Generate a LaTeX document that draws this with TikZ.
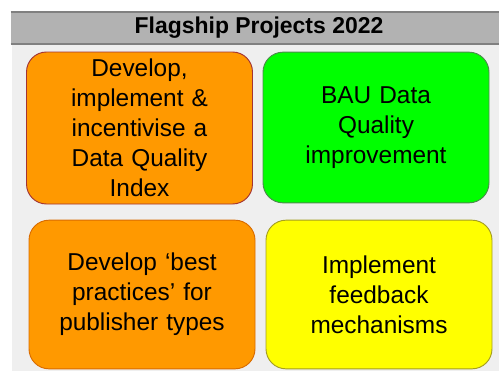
\documentclass[tikz,border=0pt]{standalone}
\usepackage{fontspec}
\setmainfont{Liberation Sans}
\usetikzlibrary{positioning, calc}
\definecolor{myorange}{HTML}{FF9900}
\definecolor{mygreen}{HTML}{00FF00}
\definecolor{myyellow}{HTML}{FFFF00}
\definecolor{mygray}{HTML}{B2B2B2}
\definecolor{mypanel}{HTML}{EFEFEF}
\tikzset{ % box styles
  my boxes/.style={rounded corners=15pt,minimum width=169.5pt,line width=0.7pt,
    text width=160pt,align=center,font=\fontsize{18.3}{22.5}\selectfont},
  flag red/.style={my boxes,draw=red!55!black!80,fill=myorange,minimum height=114pt},
  flag amber/.style={my boxes,draw=orange!85!black,fill=myorange,minimum height=111.5pt},
  flag green/.style={my boxes,draw=green!35!black!70,fill=mygreen,minimum height=113pt},
  flag yellow/.style={my boxes,draw=olive!80,fill=myyellow,minimum height=111.5pt}
}

\begin{document}
\begin{tikzpicture}[x=0.75pt,y=-0.75pt]
\useasboundingbox (0,0) rectangle (499,371);

% panel and header
\fill[mypanel] (12,44) rectangle (499,371);
\node[fill=mygray,inner sep=0,minimum width=366.75pt,minimum height=24pt] (header) at (255.5,28) {};
\draw[gray,line width=1.2pt] (header.north west) -- (header.north east);
\draw[gray,line width=1.2pt] (header.south west) -- (header.south east);
\node[font=\fontsize{17.2}{20}\selectfont\bfseries] (title) at (259,28) {Flagship Projects 2022};

% projects
\node[flag red]    (dqi)      at (139.5,128)   {Develop,\\implement \&\\incentivise a\\Data Quality\\Index};
\node[flag green]  (bau)      at (376,127.5)   {BAU Data\\Quality\\improvement};
\node[flag amber]  (best)     at (142,294.5)   {Develop ‘best\\practices’ for\\publisher types};
\node[flag yellow] (feedback) at (379,294.5)   {Implement\\feedback\\mechanisms};
\end{tikzpicture}
\end{document}
